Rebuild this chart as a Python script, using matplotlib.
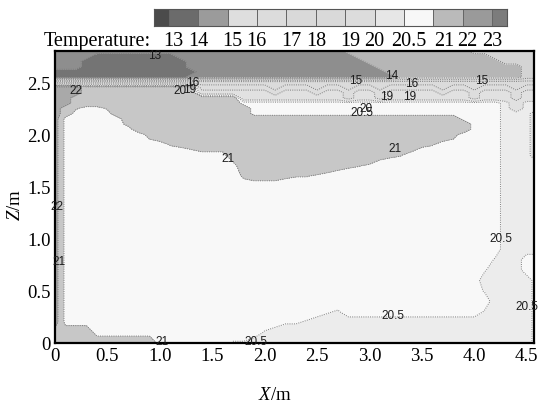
import numpy as np
import matplotlib
matplotlib.use("Agg")
import matplotlib.pyplot as plt
from matplotlib.colors import ListedColormap, BoundaryNorm

plt.rcParams['font.family'] = ['Liberation Serif', 'DejaVu Serif']
plt.rcParams['mathtext.fontset'] = 'custom'
plt.rcParams['mathtext.it'] = 'Liberation Serif:italic'
plt.rcParams['mathtext.rm'] = 'Liberation Serif'

# ---------------- data ----------------
levels = [13, 14, 15, 16, 17, 18, 19, 20, 20.5, 21, 22, 23]
bar_labels = ["13", "14", "15", "16", "17", "18", "19", "20", "20.5", "21", "22", "23"]

# temperature read at each grid node (code -> temperature, deg C)
code_temp = {'0': 12.5, '1': 13.5, '2': 14.5, '3': 15.5, '4': 16.5, '5': 17.5,
             '6': 18.5, '7': 19.5, '8': 20.25, 'g': 20.45, 'h': 20.55, '9': 20.75,
             'e': 20.92, 'd': 21.02, 'c': 21.08, 'b': 21.2, 'A': 21.5, 'B': 22.5}

x_nodes = np.linspace(0.0, 4.6, 47)
z_nodes = [0.0, 0.1, 0.2, 0.3, 0.4, 0.5, 0.6, 0.7, 0.8, 0.9, 1.0, 1.1, 1.2, 1.3,
           1.4, 1.5, 1.6, 1.7, 1.8, 1.9, 2.0, 2.05, 2.1, 2.15, 2.2, 2.25, 2.3,
           2.35, 2.4, 2.45, 2.5, 2.55, 2.6, 2.65, 2.7, 2.75, 2.8]

# rows listed from the floor (z=0) up to the ceiling (z=2.8); 47 nodes each
temp_rows = [
    'A' * 10 + '9' * 7 + 'gg' + '8' * 27 + '9',                           # 0.0
    'A' * 4 + '9' * 16 + 'g' + '8' * 25 + '9',                            # 0.1
    'B' + '9' * 21 + 'hh' + 'g' + '8' * 21 + '9',                         # 0.2
    'B' + '9' * 25 + 'h' + 'g' + '9' * 13 + 'g' + '8' * 4 + '9',          # 0.3
    'B' + '9' * 41 + '8' * 4 + '9',                                       # 0.4
    'B' + '9' * 40 + 'g' + '8' * 4 + '9',                                 # 0.5
    'B' + '9' * 40 + '8' * 5 + '9',                                       # 0.6
    'B' + '9' * 40 + 'h' + '8' * 3 + '99',                                # 0.7
    'B' + '9' * 41 + 'g' + '88' + '99',                                   # 0.8
    'B' + '9' * 42 + '8888',                                              # 0.9
    'B' + '9' * 42 + '8888',                                              # 1.0
    'B' + '9' * 42 + '8888',                                              # 1.1
    'B' + '9' * 42 + '8888',                                              # 1.2
    'B' + '9' * 42 + '8888',                                              # 1.3
    'B' + '9' * 42 + '8888',                                              # 1.4
    'B' + '9' * 42 + '8888',                                              # 1.5
    'B' + '9' * 17 + 'cbbbcdd' + 'e' + '9' * 17 + '8888',                 # 1.6
    'B' + '9' * 17 + 'A' * 9 + 'bcd' + 'e' + '9' * 12 + '8888',           # 1.7
    'B' + '9' * 16 + 'A' * 14 + 'bcd' + '9' * 9 + '888' + '7',            # 1.8
    'B' + '9' * 10 + 'dcb' + 'A' * 21 + 'cd' + '9' * 6 + '888' + '7',     # 1.9
    'B' + '9' * 8 + 'b' + 'A' * 28 + 'b' + '9' * 4 + '888' + '7',         # 2.0
    'B' + '9' * 7 + 'A' * 32 + '999' + '888' + '7',                       # 2.05
    'B' + '9' * 6 + 'b' + 'A' * 32 + '999' + '888' + '7',                 # 2.1
    'B' + '9' * 6 + 'A' * 32 + '9' * 4 + '888' + '7',                     # 2.15
    'B' + 'A' + '9' * 4 + 'A' * 13 + '9' * 24 + '888' + '7',              # 2.2
    'B' + 'A' + 'c' + '99' + 'c' + 'A' * 13 + '9' * 24 + '8' + '7' + '88',  # 2.25
    'BB' + 'A' * 16 + '9' * 25 + '8' + '7' + '88',                        # 2.3
    'BB' + 'A' * 16 + '7' * 10 + '6' + '77' + '6' + '7' * 8 + '6' + '777' + '6' + '77',  # 2.35
    'BBB' + 'A' * 11 + '7' * 7 + '6' + '777' + '6' + '77' + '6' + '77' + '6' + '7' * 5
    + '6' + '77' + '6' + '777' + '6' + '77',                              # 2.4
    'BBB' + 'A' * 11 + '6' * 7 + '5' + '666' + '5' + '66' + '5' + '66' + '5' + '6' * 5
    + '5' + '66' + '5' + '666' + '5' + '66',                              # 2.45
    '5' * 47,                                                             # 2.5
    '0' * 13 + '1' * 20 + '2' * 12 + '33',                                # 2.55
    '0' * 14 + '1' * 18 + '2' * 13 + '33',                                # 2.6
    '111' + '0' * 10 + '1' * 18 + '2' * 14 + '33',                        # 2.65
    '111' + '0' * 10 + '1' * 17 + '2' * 13 + '3333',                      # 2.7
    '1111' + '0' * 8 + '1' * 17 + '2' * 13 + '33333',                     # 2.75
    '1' * 28 + '2' * 12 + '3' * 7,                                        # 2.8
]

label_text = ["13", "22", "20", "19", "16", "15", "14", "16", "19", "19", "15",
              "20", "20.5", "21", "21", "22", "21", "21", "20.5", "20.5", "20.5", "20.5"]
label_x = [0.95, 0.20, 1.19, 1.28, 1.31, 2.87, 3.21, 3.40, 3.16, 3.38, 4.07,
           2.97, 2.93, 1.65, 3.24, 0.02, 0.04, 1.02, 1.92, 3.22, 4.25, 4.50]
label_z = [2.76, 2.43, 2.43, 2.435, 2.50, 2.52, 2.57, 2.49, 2.37, 2.37, 2.52,
           2.255, 2.215, 1.77, 1.87, 1.31, 0.79, 0.02, 0.02, 0.27, 1.01, 0.35]

# ---------------- styles ----------------
plot_colors = ['#747474', '#8e8e8e', '#b6b6b6', '#d4d4d4', '#d9d9d9', '#dbdbdb',
               '#dddddd', '#e1e1e1', '#ececec', '#f8f8f8', '#c7c7c7', '#a9a9a9', '#8a8a8a']
bar_colors = ['#4b4b4b', '#6b6b6b', '#9b9b9b', '#dedede', '#dcdcdc', '#d9d9d9',
              '#d9d9d9', '#dcdcdc', '#e6e6e6', '#f7f7f7', '#bababa', '#9a9a9a', '#7c7c7c']

T = np.array([[code_temp[c] for c in row] for row in temp_rows])
X, Z = np.meshgrid(x_nodes, np.array(z_nodes))

W, H = 538, 406
fig = plt.figure(figsize=(W / 100, H / 100), dpi=100)
ax = fig.add_axes([55 / W, (H - 344) / H, 479 / W, 292 / H])

fill_levels = [5] + levels + [30]
ax.contourf(X, Z, T, levels=fill_levels, colors=plot_colors)
ax.contour(X, Z, T, levels=levels, colors='#7c7c7c', linewidths=0.7,
           linestyles=[(0, (1, 1.3))])

for t, lx, lz in zip(label_text, label_x, label_z):
    ax.text(lx, lz, t, fontsize=8.5, family='Liberation Sans', color='#1c1c1c',
            ha='center', va='center', clip_on=False, zorder=10)

ax.set_xlim(0, 4.57)
ax.set_ylim(0, 2.8)
xt = [0, 0.5, 1.0, 1.5, 2.0, 2.5, 3.0, 3.5, 4.0, 4.5]
ax.set_xticks(xt)
ax.set_xticklabels(["0"] + [f"{v:.1f}" for v in xt[1:]])
yt = [0, 0.5, 1.0, 1.5, 2.0, 2.5]
ax.set_yticks(yt)
ax.set_yticklabels(["0"] + [f"{v:.1f}" for v in yt[1:]])
ax.tick_params(length=0, pad=3, labelsize=13.5)
for s in ax.spines.values():
    s.set_linewidth(1.6)
    s.set_color('black')

fig.text(275 / W, 1 - 396 / H, '$X$/m', ha='center', va='center', fontsize=13.5)
fig.text(16 / W, 1 - 205 / H, '$Z$/m', ha='center', va='center', fontsize=13.5, rotation=90)

# colour bar strip
cax = fig.add_axes([154 / W, 1 - 27 / H, 353 / W, 17 / H])
edges = [0.5] + list(range(1, 13)) + [12.5]
cax.pcolormesh(edges, [0, 1], np.arange(13).reshape(1, 13),
               cmap=ListedColormap(bar_colors), norm=BoundaryNorm(np.arange(-0.5, 13.5), 13),
               edgecolors='#666666', linewidth=0.6)
cax.set_xlim(0.5, 12.5)
cax.set_ylim(0, 1)
cax.set_xticks([])
cax.set_yticks([])
for s in cax.spines.values():
    s.set_linewidth(0.8)
    s.set_color('#555555')

bar_label_px = [173, 198, 232, 256, 291, 316, 350, 374, 409, 444, 467, 492]
for t, px in zip(bar_labels, bar_label_px):
    fig.text(px / W, 1 - 46 / H, t, ha='center', va='baseline', fontsize=14.5)
fig.text(151 / W, 1 - 46 / H, 'Temperature:', ha='right', va='baseline', fontsize=14.5)

fig.savefig('out.png', dpi=100)
